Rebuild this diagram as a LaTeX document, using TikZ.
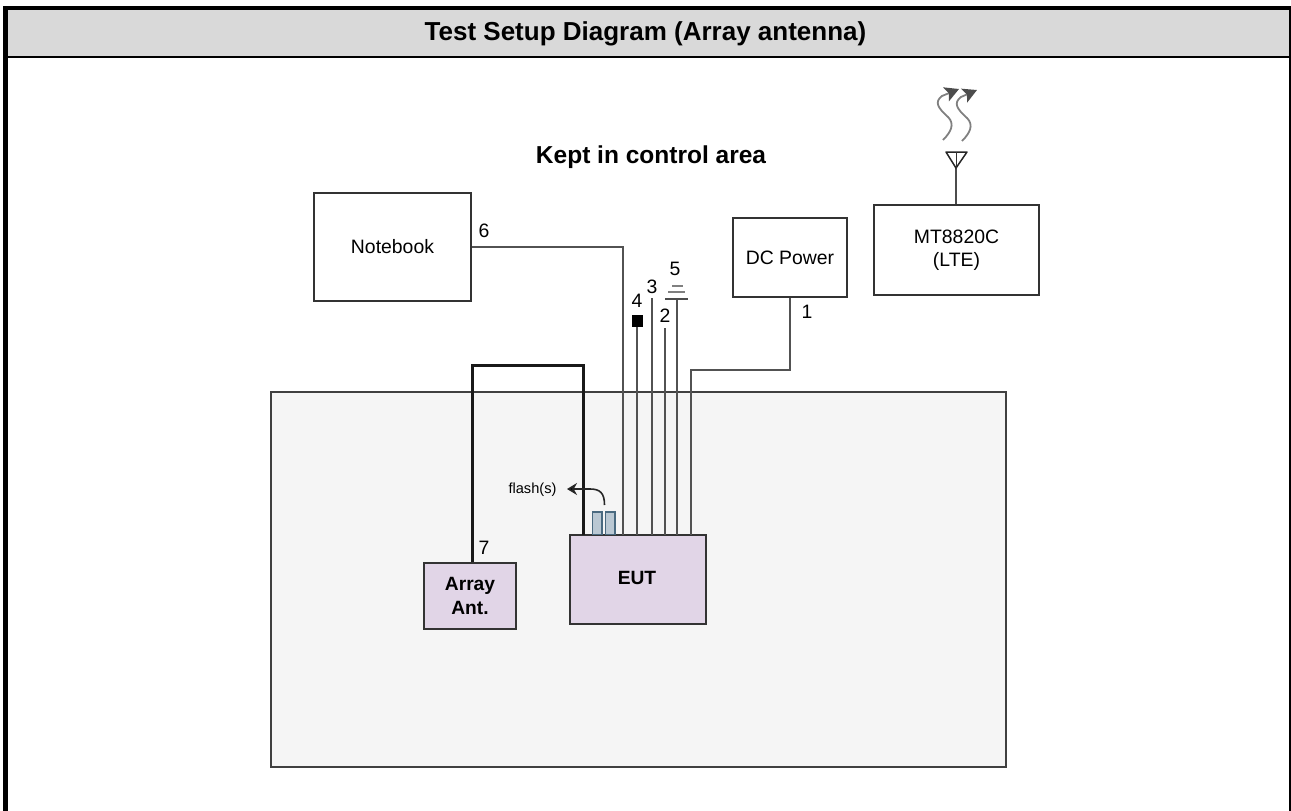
\documentclass[tikz,border=0pt]{standalone}
\usepackage{fontspec}
\setmainfont{Liberation Sans}
\usetikzlibrary{arrows.meta}
\definecolor{purpleF}{HTML}{E1D5E7}
\definecolor{flashF}{HTML}{BAC8D3}
\definecolor{flashD}{HTML}{4A6A80}
\tikzset{
  x=1pt,y=-1pt,
  box/.style={draw=black!80,line width=1.5pt,fill=white,inner sep=0pt,align=center,font=\fontsize{19.4}{23}\selectfont},
  dut/.style={box,fill=purpleF,font=\fontsize{19.2}{24}\selectfont\bfseries},
  cable/.style={draw=black!68,line width=1.8pt},
  heavy cable/.style={draw=black!90,line width=3pt},
  num/.style={inner sep=0pt,font=\fontsize{19.4}{23}\selectfont},
  wave/.style={draw=black!50,line width=1.8pt,-{Stealth[length=14pt,width=15pt,inset=3pt,fill=black!70,color=black!70]}},
}
\begin{document}
\begin{tikzpicture}
\useasboundingbox (0,0) rectangle (1291,811);
% table frame
\fill[fill=black!15] (5,8) rectangle (1289,57);
\draw[line width=5pt] (5.5,811) -- (5.5,8) ;
\draw[line width=4pt] (3,8) -- (1291,8);
\draw[line width=2.5pt] (5,57) -- (1291,57);
\draw[line width=2.5pt] (1290,8) -- (1290,811);
\node[inner sep=0pt,font=\fontsize{26}{30}\selectfont\bfseries] (title) at (645.5,33.5) {Test Setup Diagram (Array antenna)};
% chamber
\node[draw=black!75,line width=1.4pt,fill=black!4,minimum width=735pt,minimum height=375pt,inner sep=0pt] (chamber) at (638.5,579.5) {};
\node[inner sep=0pt,font=\fontsize{24.5}{28}\selectfont\bfseries] (area) at (651,157) {Kept in control area};
% boxes
\node[box,minimum width=157pt,minimum height=108pt] (nb) at (392.5,247) {Notebook};
\node[box,minimum width=114pt,minimum height=79pt] (dc) at (790,257.5) {DC Power};
\node[box,minimum width=165pt,minimum height=90pt] (mt) at (956.5,250) {MT8820C\\(LTE)};
\node[dut,minimum width=136pt,minimum height=89pt] (eut) at (638,579.5) {};
\node[inner sep=0pt,font=\fontsize{19.2}{23}\selectfont\bfseries] (eutl) at (637,578) {EUT};
\node[dut,minimum width=92pt,minimum height=66pt] (arr) at (470,596) {Array\\Ant.};
% anchors
\coordinate (t4) at (637,327);
\coordinate (t3) at (652,298);
\coordinate (t2) at (665,328);
\coordinate (t5) at (677,299);
% cables
\draw[cable] (nb.east |- 0,247) -- (623,247) -- (623,535);
\draw[cable] (t4) -- (637,535);
\draw[cable] (t3) -- (652,535);
\draw[cable] (t2) -- (665,535);
\draw[cable] (t5) -- (677,535);
\draw[cable] (dc.south) -- (790,370) -- (691,370) -- (691,535);
\draw[heavy cable] (arr.north -| 472,0) -- (472,365) -- (583,365) -- (583,535);
% ground
\draw[draw=black!70,line width=1.8pt] (665,299) -- (688,299);
\draw[draw=black!50,line width=1.8pt] (668,292) -- (685,292);
\draw[draw=black!50,line width=1.8pt] (672,286) -- (683,286);
% plug
\fill[black] (631.5,315) rectangle (642.5,327);
% flash units
\draw[draw=flashD,fill=flashF,line width=1.2pt] (592.5,512) rectangle (602,534.5);
\draw[draw=flashD,fill=flashF,line width=1.2pt] (605.5,512) rectangle (615,534.5);
\node[inner sep=0pt,font=\fontsize{14.6}{17}\selectfont] (fl) at (532.5,490) {flash(s)};
\coordinate (fs) at (604.5,505);
\draw[line width=1.6pt,black!85,-{Stealth[length=10pt,width=12pt,fill=black]}] (fs) .. controls (604.5,493) and (600,489) .. (590,489) -- (567,489);
% labels
\node[num] (n6) at (484,231) {6};
\node[num] (n4) at (637,301) {4};
\node[num] (n3) at (652,287) {3};
\node[num] (n2) at (665,316) {2};
\node[num] (n5) at (675,269) {5};
\node[num] (n1) at (807,312) {1};
\node[num] (n7) at (484,548) {7};
% antenna
\coordinate (ap) at (956,168);
\draw[draw=black!70,line width=1.8pt] (mt.north -| ap) -- (ap);
\draw[draw=black!85,line width=1.5pt,line join=round] (946,152) -- (967,152) -- (ap) -- cycle;
\draw[draw=black!80,line width=1pt] (956,152) -- (ap);
\draw[wave] (943,140) .. controls (951,132) and (955,124) .. (948,117) .. controls (938,108) and (934,102) .. (942,96) -- (959,89);
\draw[wave] (962,141) .. controls (970,133) and (974,125) .. (967,118) .. controls (957,109) and (953,103) .. (961,97) -- (977,90);
\end{tikzpicture}
\end{document}
